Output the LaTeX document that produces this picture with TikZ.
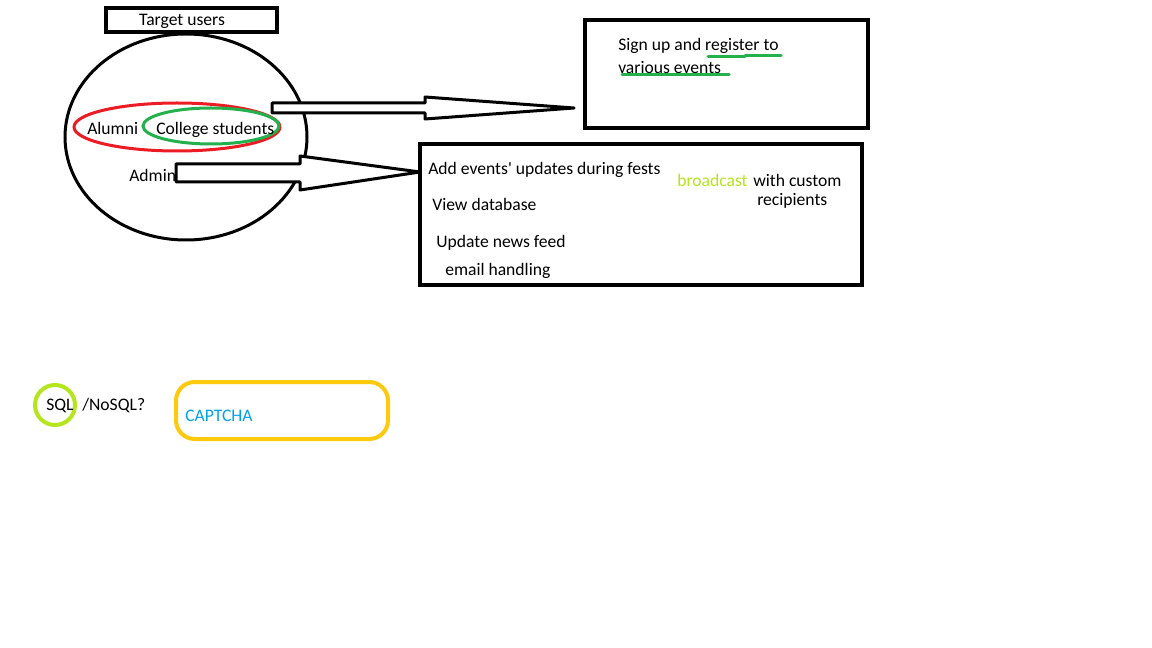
\documentclass[tikz,border=0pt]{standalone}
\usepackage{fontspec}
\setmainfont{Carlito}
\definecolor{pgreen}{HTML}{22B14C}
\definecolor{pred}{HTML}{ED1C24}
\definecolor{plime}{HTML}{B5E61D}
\definecolor{porange}{HTML}{FFC90E}
\definecolor{pblue}{HTML}{00A2E8}
\begin{document}
\begin{tikzpicture}[x=0.75pt,y=-0.75pt,
  txt/.style={inner sep=0pt,anchor=west,yshift=-1.5pt,font=\fontsize{13.2}{15}\selectfont},
  thick4/.style={line width=3pt},
  thick3/.style={line width=2.25pt},
  blockarrow/.style={draw=black,line width=2.25pt,fill=white,line join=round}]
\useasboundingbox[fill=white] (0,0) rectangle (1152,648);

% Target users
\draw[thick4] (106,8) rectangle (277,32);
\node[txt,anchor=center] (tu) at (182,19) {Target users};

% big ellipse
\draw[thick3] (186,137) ellipse [x radius=121, y radius=103];

% red and green ellipses
\draw[thick3,pred] (177,127) ellipse [x radius=103, y radius=24];
\draw[thick3,pgreen] (211,126) ellipse [x radius=68, y radius=18];
\node[txt] (alumni) at (87,126) {Alumni};
\node[txt] (college) at (156,128) {College students};
\node[txt] (admin) at (129,173) {Admin};

% block arrows
\draw[blockarrow] (272,103) -- (425,103) -- (425,97) -- (574,108) -- (425,119) -- (425,113) -- (272,113) -- cycle;
\draw[blockarrow] (176,164) -- (300,164) -- (300,156) -- (420,172) -- (300,190) -- (300,182) -- (176,182) -- cycle;

% box 1
\draw[thick4] (585,20) rectangle (868,128);
\node[txt] (s1) at (618,44) {Sign up and register to};
\node[txt] (s2) at (618,65.5) {various events};
\draw[thick3,pgreen,line cap=round] (708,57) -- (745,57);
\draw[thick3,pgreen,line cap=round] (745,55.5) -- (781,55.5);
\draw[thick3,pgreen,line cap=round] (622,75) -- (729,75);

% box 2
\draw[thick4] (420,144) rectangle (862,285);
\node[txt] (a1) at (428,168) {Add events\textquotesingle\ updates during fests};
\node[txt] (a2) at (432,202) {View database};
\node[txt] (a3) at (436,241) {Update news feed};
\node[txt] (a4) at (445,269) {email handling};
\node[txt,text=plime] (b1) at (677,178) {broadcast};
\node[txt] (b2) at (753,178) {with custom};
\node[txt] (b3) at (757,199) {recipients};

% SQL
\draw[thick4,plime] (55,405) circle [radius=20];
\node[txt] (sql) at (46,404) {SQL};
\node[txt] (nosql) at (82,404) {/NoSQL?};

% CAPTCHA
\draw[thick4,porange,rounded corners=14pt] (176,382) rectangle (388,439);
\node[txt,text=pblue] (cap) at (185,414) {CAPTCHA};
\end{tikzpicture}
\end{document}
